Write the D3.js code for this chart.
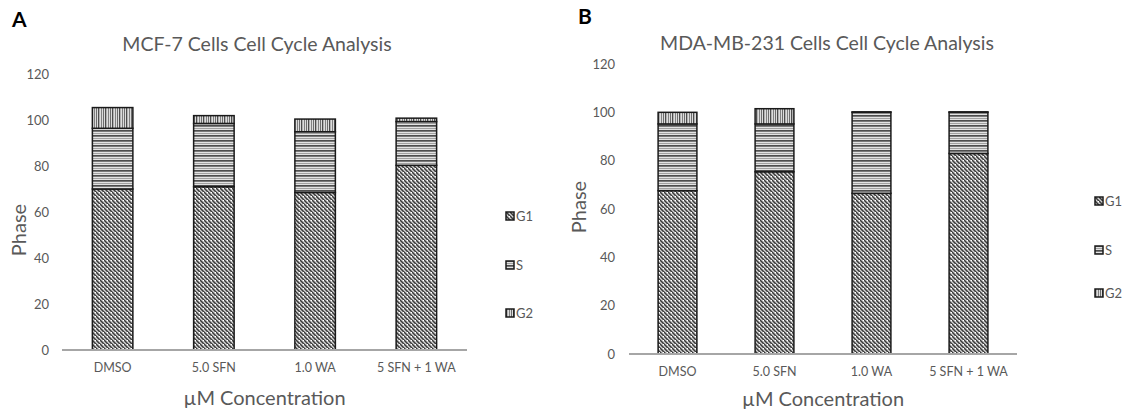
<!DOCTYPE html>
<meta charset="utf-8">
<script src="https://d3js.org/d3.v7.min.js"></script>
<style>
  body { margin: 0; background: #fff; }
  text { font-family: Lato, "Open Sans", sans-serif; }
</style>
<svg id="fig" width="1135" height="415"></svg>
<script>
  // categories and series (percent of cells in each phase)
  var categories = ["DMSO", "5.0 SFN", "1.0 WA", "5 SFN + 1 WA"];
  var phases = ["G1", "S", "G2"];
  var yTicks = [0, 20, 40, 60, 80, 100, 120];

  var mcfG1 = [70, 71, 68.5, 80.3];
  var mcfS  = [26.4, 27.5, 26.4, 19];
  var mcfG2 = [9, 3.4, 5.5, 1.5];

  var mdaG1 = [67.6, 75.4, 66.5, 83];
  var mdaS  = [27.6, 19.8, 33.5, 17];
  var mdaG2 = [4.8, 6.3, 0.2, 0.2];

  var svg = d3.select("#fig");
  var defs = svg.append("defs");

  // G1: diagonal hatch
  var p1 = defs.append("pattern").attr("id", "patG1")
      .attr("patternUnits", "userSpaceOnUse").attr("width", 4).attr("height", 4);
  p1.append("rect").attr("width", 4).attr("height", 4).attr("fill", "#d6d6d6");
  p1.append("path").attr("d", "M-1,-1L5,5M-1,3L1,5M3,-1L5,1")
      .attr("stroke", "#3a3a3a").attr("stroke-width", 1.5);
  p1.append("rect").attr("x", 3).attr("y", 0).attr("width", 1).attr("height", 1).attr("fill", "#fff");

  // S: horizontal stripes
  var p2 = defs.append("pattern").attr("id", "patS")
      .attr("patternUnits", "userSpaceOnUse").attr("width", 8).attr("height", 5);
  p2.append("rect").attr("width", 8).attr("height", 5).attr("fill", "#e3e3e3");
  p2.append("rect").attr("y", 0).attr("width", 8).attr("height", 1.7).attr("fill", "#4d4d4d");
  p2.append("rect").attr("y", 3).attr("width", 8).attr("height", 0.9).attr("fill", "#9a9a9a");

  // G2: vertical stripes
  var p3 = defs.append("pattern").attr("id", "patG2")
      .attr("patternUnits", "userSpaceOnUse").attr("width", 7).attr("height", 8);
  p3.append("rect").attr("width", 7).attr("height", 8).attr("fill", "#dcdcdc");
  p3.append("rect").attr("x", 0).attr("width", 1.3).attr("height", 8).attr("fill", "#4d4d4d");
  p3.append("rect").attr("x", 3).attr("width", 1).attr("height", 8).attr("fill", "#808080");
  p3.append("rect").attr("x", 5).attr("width", 0.9).attr("height", 8).attr("fill", "#606060");

  var fills = { G1: "url(#patG1)", S: "url(#patS)", G2: "url(#patG2)" };

  function panel(cfg) {
    var rows = categories.map(function(c, i) {
      return { cat: c, G1: cfg.g1[i], S: cfg.s[i], G2: cfg.g2[i] };
    });
    var x = d3.scaleBand().domain(categories).range([cfg.x0, cfg.x1]).paddingInner(0.6).paddingOuter(0.3);
    var y = d3.scaleLinear().domain([0, 120]).range([cfg.y0, cfg.y120]);
    var stack = d3.stack().keys(phases)(rows);

    var g = svg.append("g");

    g.append("text").attr("x", cfg.letterX).attr("y", cfg.letterY)
      .attr("font-size", 21).attr("font-weight", "bold").attr("fill", "#000")
      .attr("font-family", "'Liberation Sans', Arial, sans-serif")
      .text(cfg.letter);

    g.append("text").attr("x", cfg.titleX).attr("y", cfg.titleY)
      .attr("text-anchor", "middle").attr("font-size", 19.5).attr("fill", "#595959")
      .text(cfg.title);

    // y tick labels only
    var yAxis = g.append("g").attr("transform", "translate(" + cfg.tickX + ",0)")
      .call(d3.axisLeft(y).tickValues(yTicks).tickSize(0).tickPadding(0));
    yAxis.select(".domain").remove();
    yAxis.selectAll("text").attr("font-size", 13).attr("fill", "#595959")
      .attr("font-family", "Lato, sans-serif");

    // stacked bars
    g.selectAll(".layer").data(stack).enter().append("g")
      .attr("fill", function(d) { return fills[d.key]; })
      .selectAll("rect").data(function(d) { return d; }).enter().append("rect")
      .attr("x", function(d) { return x(d.data.cat); })
      .attr("width", x.bandwidth())
      .attr("y", function(d) { return y(d[1]); })
      .attr("height", function(d) { return y(d[0]) - y(d[1]); })
      .attr("stroke", "#1a1a1a").attr("stroke-width", 1.5);

    // baseline
    g.append("line").attr("x1", cfg.x0).attr("x2", cfg.x1)
      .attr("y1", y(0)).attr("y2", y(0))
      .attr("stroke", "#a6a6a6").attr("stroke-width", 2.2);

    // x tick labels
    var xAxis = g.append("g").attr("transform", "translate(0," + (y(0) + 13) + ")")
      .call(d3.axisBottom(x).tickSize(0).tickPadding(0));
    xAxis.select(".domain").remove();
    xAxis.selectAll("text").attr("font-size", 12.5).attr("fill", "#595959")
      .attr("font-family", "Lato, sans-serif");

    // axis titles
    g.append("text").attr("x", (cfg.x0 + cfg.x1) / 2).attr("y", cfg.xTitleY)
      .attr("text-anchor", "middle").attr("font-size", 20).attr("fill", "#595959")
      .text("\u00b5M Concentration");
    g.append("text")
      .attr("transform", "translate(" + cfg.yTitleX + "," + cfg.yTitleY + ") rotate(-90)")
      .attr("text-anchor", "middle").attr("font-size", 20).attr("fill", "#595959")
      .text("Phase");

    // legend
    var leg = g.selectAll(".leg").data(phases).enter().append("g")
      .attr("transform", function(d, i) { return "translate(" + cfg.legX + "," + cfg.legY[i] + ")"; });
    leg.append("rect").attr("x", 0).attr("y", -4).attr("width", 8).attr("height", 8)
      .attr("fill", function(d) { return fills[d]; })
      .attr("stroke", "#1a1a1a").attr("stroke-width", 1.5);
    leg.append("text").attr("x", 10).attr("y", 4.5)
      .attr("font-size", 13).attr("fill", "#595959").text(function(d) { return d; });
  }

  panel({
    letter: "A", letterX: 12, letterY: 27,
    title: "MCF-7 Cells Cell Cycle Analysis", titleX: 257, titleY: 51,
    g1: mcfG1, s: mcfS, g2: mcfG2,
    x0: 62, x1: 467, y0: 350, y120: 74, tickX: 49,
    xTitleY: 405, yTitleX: 26, yTitleY: 230,
    legX: 506, legY: [216, 265, 313]
  });

  panel({
    letter: "B", letterX: 578, letterY: 24,
    title: "MDA-MB-231 Cells Cell Cycle Analysis", titleX: 827, titleY: 50,
    g1: mdaG1, s: mdaS, g2: mdaG2,
    x0: 629, x1: 1017, y0: 354, y120: 64, tickX: 615,
    xTitleY: 406, yTitleX: 586, yTitleY: 207,
    legX: 1095, legY: [201, 250, 293]
  });
</script>
